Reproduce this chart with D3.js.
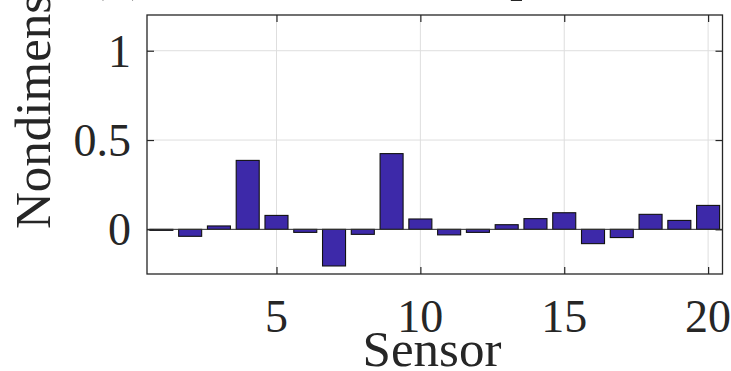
<!DOCTYPE html>
<html>
<head>
<meta charset="utf-8">
<script src="https://cdn.jsdelivr.net/npm/d3@7"></script>
<style>
html,body{margin:0;padding:0;background:#fff;overflow:hidden;}
svg{display:block;}
text{font-family:"Liberation Serif","Times New Roman",serif;fill:#262626;}
</style>
</head>
<body>
<svg id="chart" width="731" height="371"></svg>
<script>
const sensors = d3.range(1, 21);
const values = [-0.005, -0.039, 0.019, 0.386, 0.078, -0.017, -0.205, -0.028, 0.424, 0.058,
                -0.031, -0.017, 0.026, 0.060, 0.093, -0.080, -0.046, 0.084, 0.050, 0.134];
const xTicks = [5, 10, 15, 20];
const yTicks = [0, 0.5, 1];
const xLabel = "Sensor";
const yLabel = "Nondimensional strain";
const title = "(b) Nondimensional peak strain";

const svg = d3.select("#chart");
const L = 147, R = 722.5, T = 15, B = 274;
const x = d3.scaleLinear().domain([0.5, 20.5]).range([L, R]);
const y = d3.scaleLinear().domain([-0.25, 1.2]).range([B, T]);
const ink = "#262626";

// grid
svg.append("g").selectAll("line.gx").data(xTicks).enter().append("line")
  .attr("x1", d => x(d)).attr("x2", d => x(d)).attr("y1", T).attr("y2", B)
  .attr("stroke", "#dedede").attr("stroke-width", 1);
svg.append("g").selectAll("line.gy").data(yTicks).enter().append("line")
  .attr("x1", L).attr("x2", R).attr("y1", d => y(d)).attr("y2", d => y(d))
  .attr("stroke", "#dedede").attr("stroke-width", 1);

// bars
const bw = 0.8;
svg.append("g").selectAll("rect").data(sensors).enter().append("rect")
  .attr("x", (d) => x(d - bw / 2))
  .attr("width", (d) => x(d + bw / 2) - x(d - bw / 2))
  .attr("y", (d, i) => y(Math.max(0, values[i])))
  .attr("height", (d, i) => Math.max(1, Math.abs(y(values[i]) - y(0))))
  .attr("fill", "#3d29a9")
  .attr("stroke", "#111")
  .attr("stroke-width", 1.1);

// baseline
svg.append("line").attr("x1", L).attr("x2", R).attr("y1", y(0)).attr("y2", y(0))
  .attr("stroke", "#333").attr("stroke-width", 1);

// axes with inward ticks (box)
const tl = 7;
const axB = d3.axisBottom(x).tickValues(xTicks).tickFormat("");
const axT = d3.axisTop(x).tickValues(xTicks).tickFormat("");
const axLft = d3.axisLeft(y).tickValues(yTicks).tickFormat("");
const axRgt = d3.axisRight(y).tickValues(yTicks).tickFormat("");
function styleAx(g){
  g.select(".domain").remove();
  g.selectAll(".tick line").attr("stroke", ink).attr("stroke-width", 1.2);
}
svg.append("g").attr("transform", `translate(0,${B})`).call(axB.tickSize(-tl)).call(styleAx);
svg.append("g").attr("transform", `translate(0,${T})`).call(axT.tickSize(-tl)).call(styleAx);
svg.append("g").attr("transform", `translate(${L},0)`).call(axLft.tickSize(-tl)).call(styleAx);
svg.append("g").attr("transform", `translate(${R},0)`).call(axRgt.tickSize(-tl)).call(styleAx);

// box
svg.append("rect").attr("x", L).attr("y", T).attr("width", R - L).attr("height", B - T)
  .attr("fill", "none").attr("stroke", ink).attr("stroke-width", 1.3);

// tick labels
svg.append("g").selectAll("text").data(xTicks).enter().append("text")
  .attr("x", d => x(d)).attr("y", 332)
  .attr("text-anchor", "middle").attr("font-size", 46)
  .text(d => d);
svg.append("g").selectAll("text").data(yTicks).enter().append("text")
  .attr("x", 131).attr("y", d => y(d) + 16)
  .attr("text-anchor", "end").attr("font-size", 46)
  .text(d => d);

// axis labels
svg.append("text").attr("x", 432).attr("y", 366)
  .attr("text-anchor", "middle").attr("font-size", 51).text(xLabel);
svg.append("text").attr("transform", `translate(50,229) rotate(-90)`)
  .attr("text-anchor", "start").attr("font-size", 51).text(yLabel);

// title (mostly above the visible area)
svg.append("text").attr("x", 88).attr("y", -10)
  .attr("text-anchor", "start").attr("font-size", 51).text(title);
</script>
</body>
</html>
